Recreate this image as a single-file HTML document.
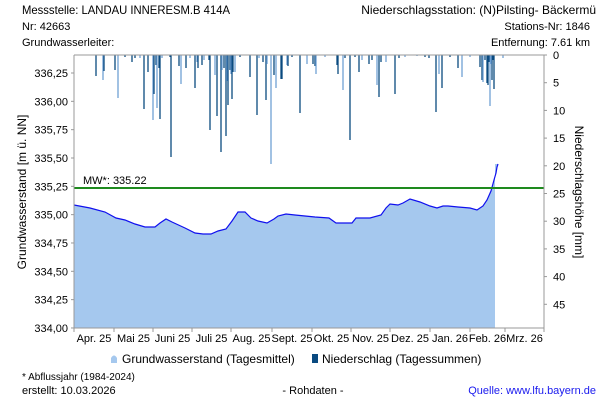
<!DOCTYPE html>
<html><head><meta charset="utf-8"><style>
body{margin:0;background:#fff;width:600px;height:400px;overflow:hidden;font-family:"Liberation Sans",sans-serif;}
svg text{font-family:"Liberation Sans",sans-serif;fill:#000;}
</style></head><body>
<svg width="600" height="400" viewBox="0 0 600 400" xmlns="http://www.w3.org/2000/svg">
<text x="22" y="14" font-size="12" textLength="208" lengthAdjust="spacingAndGlyphs">Messstelle: LANDAU INNERESM.B 414A</text>
<text x="596" y="14" font-size="12" text-anchor="end">Niederschlagsstation: (N)Pilsting- Bäckermü</text>
<text x="22" y="30" font-size="11">Nr: 42663</text>
<text x="22" y="46" font-size="11">Grundwasserleiter:</text>
<text x="590" y="30" font-size="11" text-anchor="end">Stations-Nr: 1846</text>
<text x="590" y="46" font-size="11" text-anchor="end">Entfernung: 7.61 km</text>

<path d="M74,205 L90,208 L105,212 L116,218 L125,220 L135,224 L145,227 L155,227 L160,223 L166,219 L172,222 L185,228 L195,233 L203,234 L211,234 L218,231 L226,229 L232,221 L238,212 L245,212 L251,218 L258,221 L267,223 L274,219 L278,216 L286,214 L295,215 L305,216 L315,217 L329,218 L336,223 L352,223 L356,218 L370,218 L381,215 L386,208 L390,204 L398,205 L403,203 L410,199 L420,202 L430,206 L437,208 L443,206 L448,206 L458,207 L470,208 L477,210 L483,206 L487,200 L491,191 L494,180 L496,173 L497,167 L498,164 L495,164 L495,328 L74,328 Z" fill="#a5c8ee"/>
<path d="M74,205 L90,208 L105,212 L116,218 L125,220 L135,224 L145,227 L155,227 L160,223 L166,219 L172,222 L185,228 L195,233 L203,234 L211,234 L218,231 L226,229 L232,221 L238,212 L245,212 L251,218 L258,221 L267,223 L274,219 L278,216 L286,214 L295,215 L305,216 L315,217 L329,218 L336,223 L352,223 L356,218 L370,218 L381,215 L386,208 L390,204 L398,205 L403,203 L410,199 L420,202 L430,206 L437,208 L443,206 L448,206 L458,207 L470,208 L477,210 L483,206 L487,200 L491,191 L494,180 L496,173 L497,167 L498,164" fill="none" stroke="#1010ee" stroke-width="1.2"/>

<line x1="74" y1="188" x2="544" y2="188" stroke="#1e8a1e" stroke-width="2"/>
<text x="83" y="184" font-size="11">MW*: 335.22</text>

<g id="bars" stroke-width="1.3"></g>

<line x1="74" y1="55" x2="544" y2="55" stroke="#999"/>
<line x1="74" y1="55" x2="74" y2="328" stroke="#999"/>
<line x1="544" y1="55" x2="544" y2="328" stroke="#999"/>
<line x1="74" y1="328" x2="544" y2="328" stroke="#999"/>
<g stroke="#999" id="ticks"></g>
<g font-size="11" text-anchor="end" id="ylab"></g>
<g font-size="11" id="rlab"></g>
<g font-size="11" text-anchor="middle" id="xlab"></g>
<text transform="translate(26,192) rotate(-90)" font-size="12" text-anchor="middle">Grundwasserstand [m ü. NN]</text>
<text transform="translate(575,192) rotate(90)" font-size="12" text-anchor="middle">Niederschlagshöhe [mm]</text>

<path d="M111,363 L111,358 Q114,353 117,358 L117,363 Z" fill="#a5c8ee"/>
<text x="122" y="363" font-size="12">Grundwasserstand (Tagesmittel)</text>
<rect x="312" y="354" width="6" height="9" fill="#0a4a80"/>
<text x="322" y="363" font-size="12">Niederschlag (Tagessummen)</text>

<text x="22" y="380" font-size="10">* Abflussjahr (1984-2024)</text>
<text x="22" y="394" font-size="11">erstellt:  10.03.2026</text>
<text x="313" y="394" font-size="11" text-anchor="middle">- Rohdaten -</text>
<text x="596" y="394" font-size="11" text-anchor="end" style="fill:#1a1aee">Quelle: www.lfu.bayern.de</text>
</svg>
<script>
var NS="http://www.w3.org/2000/svg";
function el(p,t,a,txt){var e=document.createElementNS(NS,t);for(var k in a)e.setAttribute(k,a[k]);if(txt)e.textContent=txt;document.getElementById(p).appendChild(e);}
var b=[[96,76],[103,80],[104,71],[115,70],[118,98],[132,62],[135,58],[140,58],[144,109],[148,72],[153,120],[154,94],[156,65],[157,108],[159,68],[160,119],[162,58],[171,157],[179,66],[181,84],[186,68],[195,88],[197,62],[198,68],[202,65],[204,60],[209,60],[210,130],[215,75],[217,116],[221,152],[222,70],[224,68],[226,136],[227,81],[228,105],[230,70],[231,74],[232,99],[233,72],[235,72],[250,77],[257,115],[259,58],[263,62],[266,100],[267,64],[271,164],[274,75],[276,88],[281,79],[282,79],[287,65],[288,66],[300,113],[307,64],[313,64],[315,66],[316,74],[337,65],[338,74],[343,90],[350,140],[359,72],[362,60],[369,64],[372,60],[377,85],[379,97],[381,62],[386,62],[395,94],[399,58],[417,56],[429,58],[436,112],[439,74],[442,88],[458,68],[462,77],[480,67],[482,80],[483,82],[487,83],[488,85],[490,106],[492,80],[494,89],[503,58],[125,57],[170,57],[190,58],[240,57],[292,57],[325,57],[345,58],[355,57],[405,57],[425,57],[450,57],[470,57],[485,60],[489,62],[491,64],[493,60]];
b.forEach(function(d,i){var light=(i%3==1)||d[0]==271||d[0]==276||d[0]==118;el("bars","line",{x1:d[0],x2:d[0],y1:55,y2:d[1],stroke:light?"#6fa0d4":"#0a4a80"});});
var yl=["336,25","336,00","335,75","335,50","335,25","335,00","334,75","334,50","334,25","334,00"];
for(var i=0;i<10;i++){var y=73+i*28.33;el("ylab","text",{x:68,y:y+4},yl[i]);el("ticks","line",{x1:71,x2:74,y1:y,y2:y});}
for(var i=0;i<10;i++){var y=55+i*27.7;el("rlab","text",{x:553,y:y+4},String(i*5));el("ticks","line",{x1:544,x2:547,y1:y,y2:y});}
var m=["Apr. 25","Mai 25","Juni 25","Juli 25","Aug. 25","Sept. 25","Okt. 25","Nov. 25","Dez. 25","Jan. 26","Feb. 26","Mrz. 26"];
var mx=[74,114,153,192,231,272,312,351,390,430,470,505,544];
for(var i=0;i<13;i++)el("ticks","line",{x1:mx[i],x2:mx[i],y1:328,y2:332});
for(var i=0;i<12;i++)el("xlab","text",{x:(mx[i]+mx[i+1])/2,y:342},m[i]);
</script>
</body></html>
